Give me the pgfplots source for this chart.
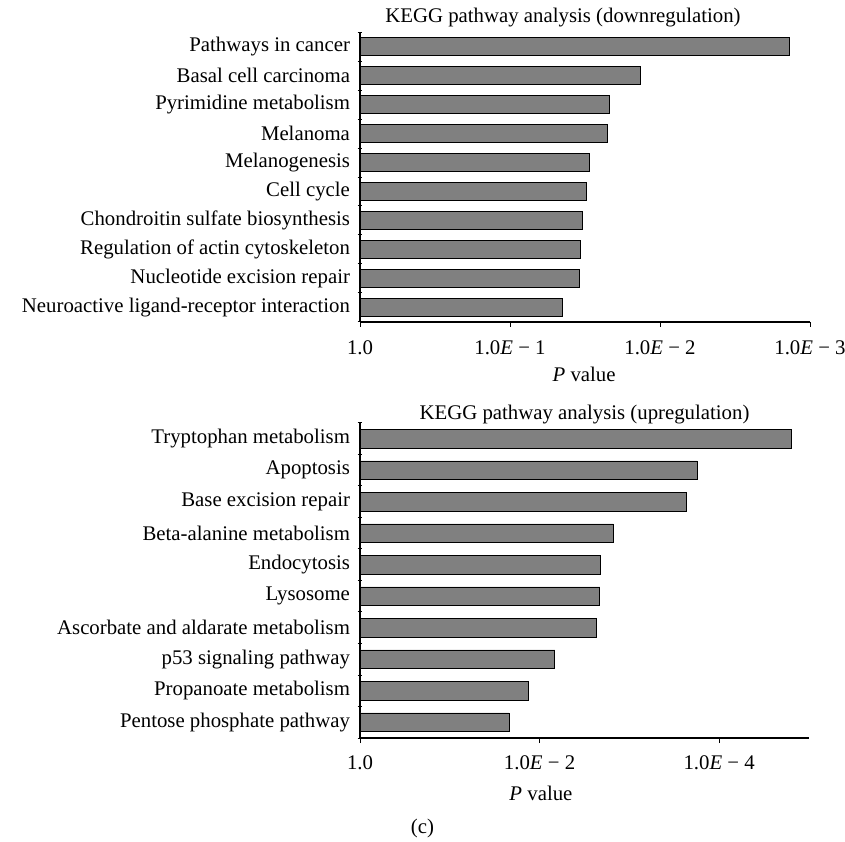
\documentclass[border=0pt]{standalone}
\usepackage{fontspec}
\setmainfont{Liberation Serif}
\usepackage{pgfplots}
\pgfplotsset{compat=1.18}
\usepackage{pgfplotstable}

% -log10(P) of the enriched KEGG pathways, row 0 at the top
\pgfplotstableread{
idx pval
0 2.862
1 1.871
2 1.660
3 1.649
4 1.531
5 1.511
6 1.482
7 1.471
8 1.460
9 1.351
}\downtable

\pgfplotstableread{
idx pval
0 4.804
1 3.752
2 3.630
3 2.822
4 2.681
5 2.670
6 2.637
7 2.170
8 1.870
9 1.659
}\uptable

\definecolor{barfill}{RGB}{128,128,128}

\pgfplotsset{
  keggbars/.style={
    scale only axis,
    xbar,
    xmin=0,
    ymin=-0.5, ymax=9.5,
    y dir=reverse,
    axis x line*=bottom,
    axis y line*=left,
    axis line style={line width=0.6bp, black},
    major tick length=2.5bp,
    xtick align=outside,
    ytick align=center,
    tick style={line width=0.5bp, black},
    ytick={-0.5,0.5,...,9.5},
    yticklabels={},
    extra y ticks={0,1,...,9},
    extra y tick style={major tick length=0pt},
    yticklabel style={anchor=east, xshift=-1.5bp},
    xticklabel style={anchor=base, yshift=-14bp},
    every axis title shift=0pt,
    title style={anchor=base},
    xlabel={\textit{P} value},
    cycle list={{fill=barfill, draw=black, line width=0.5bp}},
  },
}

\begin{document}
\begin{tikzpicture}[font=\fontsize{10.4bp}{12.5bp}\selectfont]
\path[use as bounding box] (0,0) rectangle (422.5bp,421bp);

% downregulated genes
\begin{axis}[
  keggbars,
  at={(180bp,260bp)}, anchor=south west,
  width=225bp, height=145bp,
  bar width=8.83bp,
  xmax=3,
  xtick={0,1,2,3},
  xticklabels={1.0, 1.0\textit{E} − 1, 1.0\textit{E} − 2, 1.0\textit{E} − 3},
  extra y tick labels={Pathways in cancer, Basal cell carcinoma, Pyrimidine metabolism, Melanoma, Melanogenesis, Cell cycle, Chondroitin sulfate biosynthesis, Regulation of actin cytoskeleton, Nucleotide excision repair, Neuroactive ligand-receptor interaction},
  title={KEGG pathway analysis (downregulation)},
  title style={at={(axis description cs:0.451,1)}, yshift=4.65bp},
  xlabel style={at={(axis description cs:0.498,0)}, anchor=base, yshift=-30bp},
]
\addplot table[x=pval, y=idx] {\downtable};
\end{axis}

% upregulated genes
\begin{axis}[
  keggbars,
  at={(180bp,52bp)}, anchor=south west,
  width=224.5bp, height=157.5bp,
  bar width=9.33bp,
  xmax=5,
  xtick={0,2,4},
  xticklabels={1.0, 1.0\textit{E} − 2, 1.0\textit{E} − 4},
  xticklabel style={yshift=1bp},
  extra y tick labels={Tryptophan metabolism, Apoptosis, Base excision repair, Beta-alanine metabolism\hspace{2bp}, Endocytosis, Lysosome, Ascorbate and aldarate metabolism, p53 signaling pathway, Propanoate metabolism, Pentose phosphate pathway},
  title={KEGG pathway analysis (upregulation)},
  title style={at={(axis description cs:0.5,1)}, yshift=1.65bp},
  xlabel style={at={(axis description cs:0.403,0)}, anchor=base, yshift=-31bp},
]
\addplot table[x=pval, y=idx] {\uptable};
\end{axis}

\node[anchor=base] at (211.25bp,4.5bp) {(c)};
\end{tikzpicture}
\end{document}
